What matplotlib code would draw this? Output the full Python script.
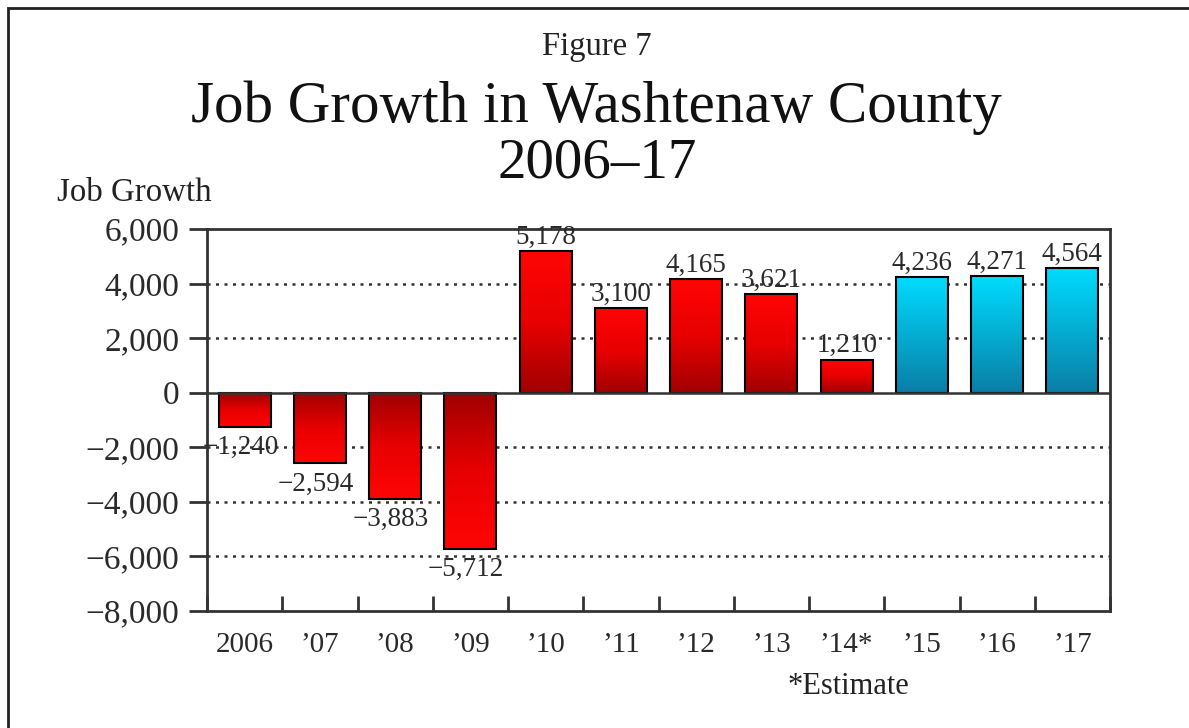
import numpy as np
import matplotlib.pyplot as plt
from matplotlib.colors import LinearSegmentedColormap
from matplotlib.patches import Rectangle

plt.rcParams['font.family'] = ['Liberation Serif', 'DejaVu Serif']

years = ['2006', '\u201907', '\u201908', '\u201909', '\u201910', '\u201911',
         '\u201912', '\u201913', '\u201914*', '\u201915', '\u201916', '\u201917']
job_growth = [-1240, -2594, -3883, -5712, 5178, 3100, 4165, 3621, 1210,
              4236, 4271, 4564]
is_forecast = [False] * 9 + [True] * 3
y_ticks = [6000, 4000, 2000, 0, -2000, -4000, -6000, -8000]
grid_vals = [4000, 2000, -2000, -4000, -6000]


def fmt(v):
    s = '{:,}'.format(abs(v))
    return ('\u2212' + s) if v < 0 else s


red_map = LinearSegmentedColormap.from_list('red', ['#a00000', '#e80000', '#ff0505'])
blue_map = LinearSegmentedColormap.from_list('blue', ['#0a7ea6', '#00dcff'])

fig = plt.figure(figsize=(11.89, 7.28), dpi=100)
ax = fig.add_axes([207 / 1189, 1 - 611 / 728, 903 / 1189, 382 / 728])

x = np.arange(len(years))
bars = ax.bar(x, job_growth, width=0.69, facecolor='none',
              edgecolor='black', linewidth=1.5, zorder=3)

grad = np.linspace(0, 1, 256).reshape(-1, 1)
for b, v, fc in zip(bars, job_growth, is_forecast):
    cmap = blue_map if fc else red_map
    x0 = b.get_x()
    x1 = x0 + b.get_width()
    # dark at zero line, bright at bar tip
    im = ax.imshow(grad, cmap=cmap, aspect='auto', origin='lower',
                   extent=(x0, x1, 0, v), zorder=2, interpolation='bilinear')
    im.set_clip_path(b)
    xc = b.get_x() + b.get_width() / 2
    if v >= 0:
        ax.annotate(fmt(v), (xc, v), xytext=(0, 1), textcoords='offset points',
                    ha='center', va='bottom', fontsize=19.5, color='#2a2a2a',
                    zorder=4)
    else:
        ax.annotate(fmt(v), (xc, v), xytext=(-3, -6), textcoords='offset points',
                    ha='center', va='top', fontsize=19.5, color='#2a2a2a',
                    zorder=4)

for g in grid_vals:
    ax.axhline(g, color='#333333', linestyle=(0, (1.2, 2.2)), linewidth=1.8,
               zorder=1)
ax.axhline(0, color='#333333', linewidth=1.8, zorder=4)

ax.set_xlim(-0.5, len(years) - 0.5)
ax.set_ylim(-8000, 6000)

ax.set_yticks(y_ticks)
ax.set_yticklabels([fmt(v) for v in y_ticks], fontsize=24, color='#2a2a2a')
ax.tick_params(axis='y', direction='out', length=13, width=2, pad=7,
               color='#333333')

ax.set_xticks(np.arange(len(years) + 1) - 0.5, minor=False)
ax.set_xticklabels([''] * (len(years) + 1))
ax.tick_params(axis='x', direction='in', length=11, width=2, color='#333333')
ax.set_xticks(x, minor=True)
ax.set_xticklabels(years, minor=True, fontsize=21, color='#2a2a2a')
ax.tick_params(axis='x', which='minor', length=0, pad=15)

for s in ax.spines.values():
    s.set_linewidth(2)
    s.set_color('#333333')

fig.text(0.502, 1 - 47 / 728, 'Figure 7', ha='center', va='center',
         fontsize=23.5, color='#222222')
fig.text(0.502, 1 - 122 / 728, 'Job Growth in Washtenaw County',
         ha='center', va='baseline', fontsize=42.5, color='#111111')
fig.text(0.502, 1 - 177 / 728, '2006\u201317', ha='center', va='baseline',
         fontsize=41, color='#111111')
fig.text(57 / 1189, 1 - 193 / 728, 'Job Growth', ha='left', va='center',
         fontsize=23.7, color='#222222')
fig.text(788 / 1189, 1 - 686 / 728, '*Estimate', ha='left', va='center',
         fontsize=22, color='#222222')

fig.patches.append(Rectangle((8 / 1189, -0.1), 1.2, 1.1 - 8 / 728,
                             transform=fig.transFigure, fill=False,
                             edgecolor='#222222', linewidth=2))

fig.savefig('out.png', dpi=100)
